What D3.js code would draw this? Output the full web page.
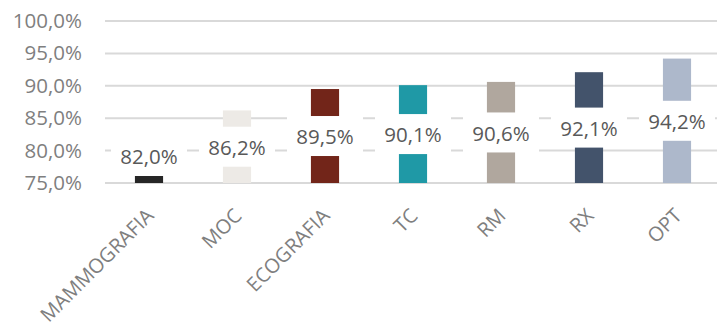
<!DOCTYPE html>
<html>
<head>
<meta charset="utf-8">
<script src="https://cdn.jsdelivr.net/npm/d3@7"></script>
<style>
  html, body { margin: 0; padding: 0; background: #fff; }
  svg { display: block; }
</style>
</head>
<body>
<svg id="chart" width="717" height="326"></svg>
<script>
// Share of exams per modality (percent)
const categories = ["MAMMOGRAFIA", "MOC", "ECOGRAFIA", "TC", "RM", "RX", "OPT"];
const values = [82.0, 86.2, 89.5, 90.1, 90.6, 92.1, 94.2];
const colors = ["#262626", "#EDEAE6", "#722519", "#1F99A6", "#B0A79E", "#43536B", "#ADB8CB"];
const yTicks = [75, 80, 85, 90, 95, 100];

const fmt = v => d3.format(".1f")(v).replace(".", ",") + "%";
const font = "'Open Sans', 'Noto Sans', sans-serif";

const svg = d3.select("#chart");
const margin = { left: 105, right: -4, top: 21, bottom: 143 };
const W = 717, H = 326;

const x = d3.scaleBand()
  .domain(categories)
  .range([margin.left, W - margin.right])
  .paddingInner(0.68)
  .paddingOuter(0.34);

const y = d3.scaleLinear()
  .domain([75, 100])
  .range([H - margin.bottom, margin.top]);

// Horizontal gridlines
svg.append("g")
  .selectAll("line")
  .data(yTicks)
  .join("line")
  .attr("x1", margin.left)
  .attr("x2", W)
  .attr("y1", d => y(d))
  .attr("y2", d => y(d))
  .attr("stroke", "#d9d9d9")
  .attr("stroke-width", 2);

// Y axis labels
const yAxis = d3.axisLeft(y).tickValues(yTicks).tickFormat(d => fmt(d)).tickSize(0).tickPadding(23);
const gy = svg.append("g")
  .attr("transform", `translate(${margin.left},0)`)
  .call(yAxis);
gy.select(".domain").remove();
gy.selectAll("text")
  .attr("fill", "#7f7f7f")
  .style("font-family", font)
  .style("font-size", "20.5px");

// Bars
svg.append("g")
  .selectAll("rect")
  .data(values)
  .join("rect")
  .attr("x", (d, i) => x(categories[i]))
  .attr("width", x.bandwidth())
  .attr("y", d => y(d))
  .attr("height", d => y(75) - y(d))
  .attr("fill", (d, i) => colors[i]);

// Value labels on white boxes centred on each bar (kept clear of the baseline)
const boxW = 76, boxH = 40;
const labels = svg.append("g")
  .selectAll("g")
  .data(values)
  .join("g")
  .attr("transform", (d, i) => {
    const cx = x(categories[i]) + x.bandwidth() / 2;
    const cy = Math.min((y(d) + y(75)) / 2, y(75) - 7 - boxH / 2);
    return `translate(${cx},${cy})`;
  });
labels.append("rect")
  .attr("x", -boxW / 2)
  .attr("y", -boxH / 2)
  .attr("width", boxW)
  .attr("height", boxH)
  .attr("fill", "#fff");
labels.append("text")
  .attr("text-anchor", "middle")
  .attr("dy", "0.36em")
  .attr("y", 1)
  .attr("fill", "#595959")
  .style("font-family", font)
  .style("font-size", "20.5px")
  .text(d => fmt(d));

// Rotated category labels
const xAxis = d3.axisBottom(x).tickSize(0).tickPadding(0);
const gx = svg.append("g")
  .attr("transform", `translate(0,${y(75)})`)
  .call(xAxis);
gx.select(".domain").remove();
gx.selectAll("text")
  .attr("fill", "#7f7f7f")
  .style("font-family", font)
  .style("font-size", "20px")
  .attr("text-anchor", "end")
  .attr("dy", 0)
  .attr("transform", "translate(6,34) rotate(-45)");
</script>
</body>
</html>
